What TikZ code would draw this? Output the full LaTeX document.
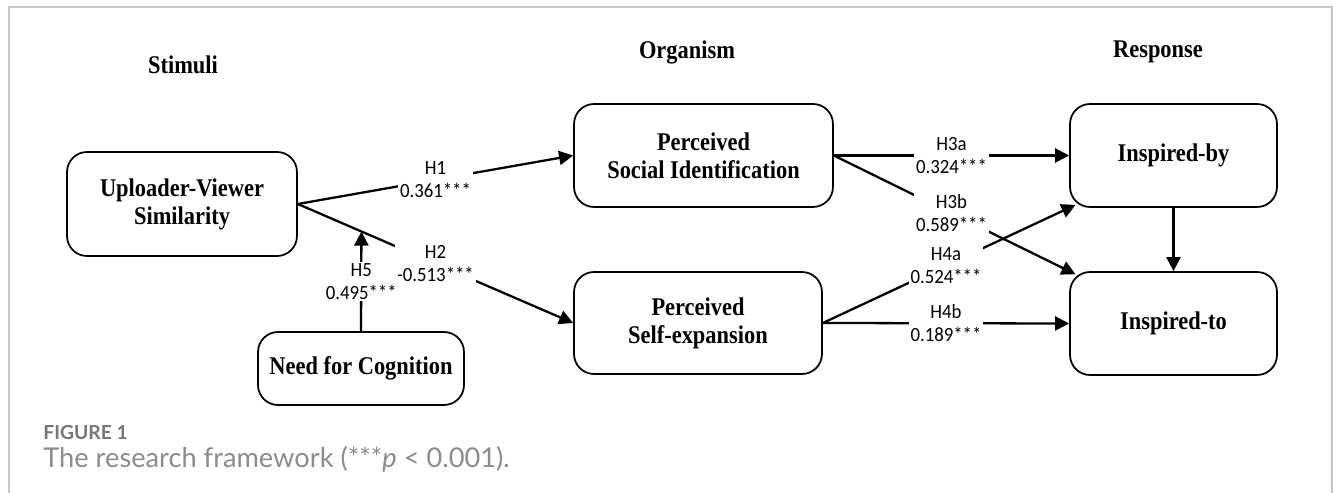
\documentclass[tikz,border=0pt]{standalone}
\usepackage{fontspec}
\setmainfont{Liberation Serif}[FakeStretch=0.88]
\newfontfamily\hypfont{Carlito}[FakeStretch=0.93]
\newfontfamily\capfont{Lato}
\usetikzlibrary{arrows.meta,calc,positioning}
\definecolor{FrameGray}{RGB}{200,200,200}
\definecolor{CapGray}{RGB}{118,118,118}
\definecolor{CapLight}{RGB}{140,140,140}

\begin{document}
\begin{tikzpicture}[x=0.02cm,y=-0.02cm,
    box/.style={draw,line width=1pt,rounded corners=0.4cm,align=center,
      inner sep=0pt,font=\fontsize{14.5}{16}\selectfont\bfseries},
    head/.style={font=\fontsize{14.5}{16}\selectfont\bfseries},
    hyp/.style={fill=white,inner sep=1pt,align=center,
      font=\hypfont\fontsize{11.5}{13}\selectfont},
    arr/.style={line width=1.3pt,-{Triangle[length=8pt,width=8pt]}}]
  \useasboundingbox (0,0) rectangle (1333,493);
  \draw[FrameGray,line width=1pt] (9,493) -- (9,7) -- (1332,7) -- (1332,493);

  % stage headings
  \node[head] (stim) at (183,65) {Stimuli};
  \node[head] (org) at (687,52) {Organism};
  \node[head] (resp) at (1158,52) {Response};

  % constructs
  \node[box,minimum width=4.6cm,minimum height=2.08cm] (simil) at (182,204) {Uploader-Viewer\\Similarity};
  \node[box,minimum width=5.18cm,minimum height=2.06cm] (socid) at (703.5,155.5) {Perceived\\Social Identification};
  \node[box,minimum width=4.96cm,minimum height=2.04cm] (selfexp) at (698,323) {Perceived\\Self-expansion};
  \node[box,minimum width=4.12cm,minimum height=1.46cm] (needcog) at (361,368.5) {Need for Cognition};
  \node[box,minimum width=4.14cm,minimum height=2.06cm] (inspby) at (1173.5,155.5) {Inspired-by};
  \node[box,minimum width=4.14cm,minimum height=2.06cm] (inspto) at (1173.5,323.5) {Inspired-to};

  % paths
  \draw[arr] (simil.east) -- node[hyp] {H1\\0.361***} (socid.west);
  \draw[arr] (simil.east) -- node[hyp] {H2\\-0.513***} (selfexp.west);
  \coordinate (mod) at ($(simil.east)!0.231!(selfexp.west)$);
  \draw[arr] (needcog.north) -- node[hyp] {H5\\0.495***} (mod);
  \draw[arr] (socid.east) -- node[hyp] {H3a\\0.324***} (inspby.west);
  \draw[arr,shorten >=-4pt] (socid.east) -- node[hyp] {H3b\\0.589***} (inspto.north west);
  \draw[arr,shorten >=-4pt] (selfexp.east) -- node[hyp] {H4a\\0.524***} (inspby.south west);
  \draw[arr] (selfexp.east) -- node[hyp] {H4b\\0.189***} (inspto.west);
  \draw[arr] (inspby.south) -- (inspto.north);

  % caption
  \node[anchor=west,inner sep=0pt,text=CapGray,
    font=\capfont\fontsize{11}{13}\selectfont\bfseries] (fignum) at (43,433) {FIGURE 1};
  \node[anchor=west,inner sep=0pt,text=CapLight,
    font=\capfont\fontsize{15.5}{17}\selectfont] (figcap) at (43,459) {The research framework (***\textit{p} < 0.001).};
\end{tikzpicture}
\end{document}
